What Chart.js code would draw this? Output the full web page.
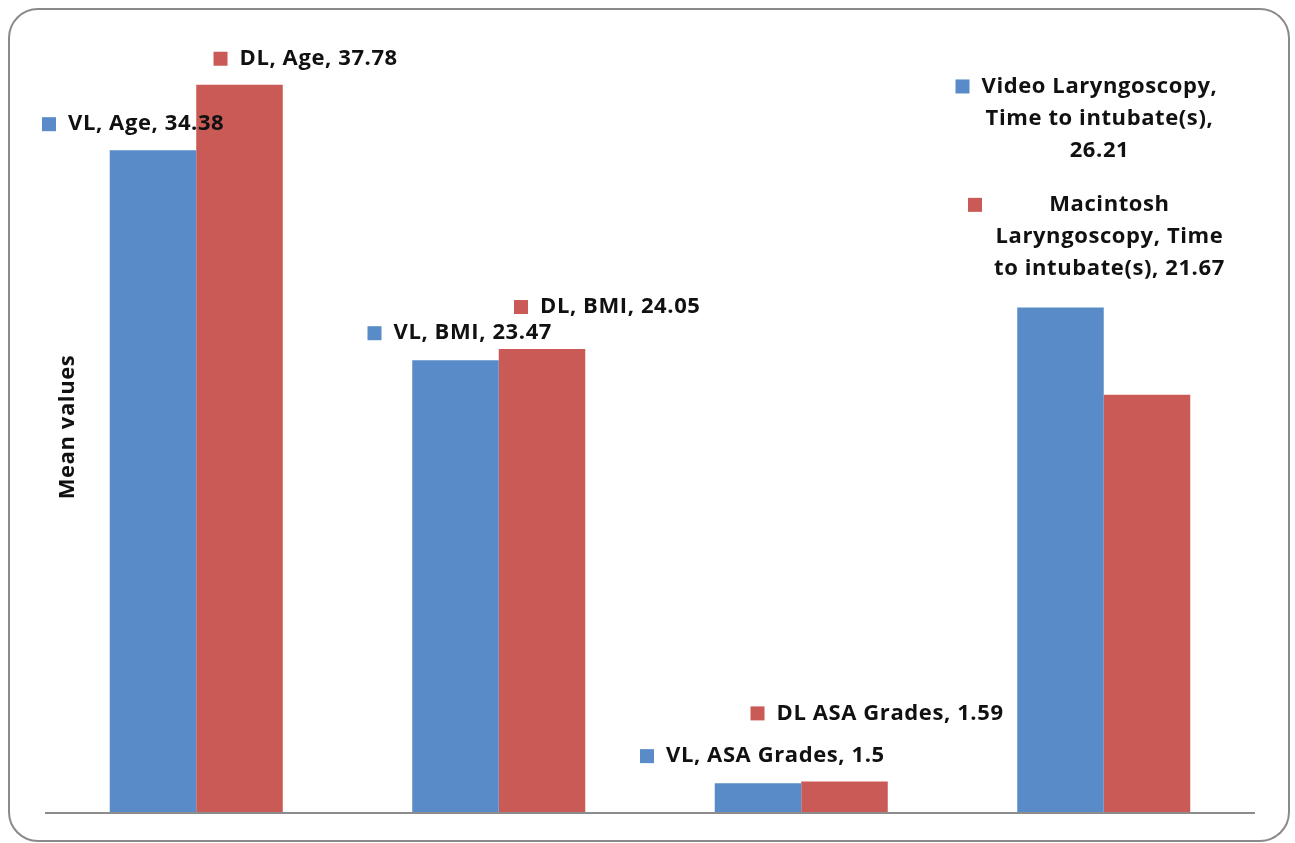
<!DOCTYPE html>
<html>
<head>
<meta charset="utf-8">
<script src="https://cdn.jsdelivr.net/npm/chart.js@4.4.1/dist/chart.umd.min.js"></script>
<style>
  html, body { margin: 0; padding: 0; background: #fff; }
  #wrap { position: absolute; left: 0; top: 0; width: 1295px; height: 843px; }
  #frame {
    position: absolute; left: 8px; top: 8px; width: 1278px; height: 830px;
    border: 2px solid #8a8a8a; border-radius: 30px; pointer-events: none;
  }
</style>
</head>
<body>
<div id="wrap">
  <canvas id="chart" width="1295" height="843"></canvas>
  <div id="frame"></div>
</div>
<script>
// ---- data ----
const categories = ['Age', 'BMI', 'ASA Grades', 'Time to intubate(s)'];
const vlValues = [34.38, 23.47, 1.5, 26.21];
const dlValues = [37.78, 24.05, 1.59, 21.67];

const vlLabels = [
  ['VL, Age, 34.38'],
  ['VL, BMI, 23.47'],
  ['VL, ASA Grades, 1.5'],
  ['Video Laryngoscopy,', 'Time to intubate(s),', '26.21']
];
const dlLabels = [
  ['DL, Age, 37.78'],
  ['DL, BMI, 24.05'],
  ['DL ASA Grades, 1.59'],
  ['Macintosh', 'Laryngoscopy, Time', 'to intubate(s), 21.67']
];

// label block offsets from the bar's top centre (manually placed in the original)
const vlOffsets = [[-111, -26], [-88, -27], [-118, -27], [-105, -221]];
const dlOffsets = [[-26, -26], [-28, -42], [-94, -68], [-179, -190]];

const BLUE = '#588BC8';
const RED = '#CA5A55';
const FONT = 'bold 22px "Open Sans", Lato, sans-serif';

function setFont(ctx) {
  ctx.font = FONT;
  ctx.letterSpacing = '0.6px';
}

/**
 * Draws baseline, y title and the Excel-style data labels
 */
const decorPlugin = {
  id: 'decor',
  afterDatasetsDraw: (chart) => {
    const { ctx, chartArea, scales } = chart;
    ctx.save();

    // baseline
    const y0 = scales.y.getPixelForValue(0);
    ctx.strokeStyle = '#8c8c8c';
    ctx.lineWidth = 2;
    ctx.beginPath();
    ctx.moveTo(chartArea.left, y0 + 1);
    ctx.lineTo(chartArea.right, y0 + 1);
    ctx.stroke();

    // y axis title
    ctx.fillStyle = '#111';
    setFont(ctx);
    ctx.textAlign = 'center';
    ctx.textBaseline = 'middle';
    ctx.save();
    ctx.translate(chartArea.left + 23, (chartArea.top + chartArea.bottom) / 2);
    ctx.rotate(-Math.PI / 2);
    ctx.fillText('Mean values', 0, 0);
    ctx.restore();

    // data labels
    const sets = [[vlLabels, vlOffsets, BLUE], [dlLabels, dlOffsets, RED]];
    sets.forEach(([labels, offsets, color], di) => {
      const meta = chart.getDatasetMeta(di);
      meta.data.forEach((bar, i) => {
        const left = bar.x + offsets[i][0];
        const top = bar.y + offsets[i][1];
        const lines = labels[i];
        ctx.fillStyle = color;
        ctx.fillRect(left, top - 7, 14, 14);
        ctx.fillStyle = '#111';
        setFont(ctx);
        const widths = lines.map(l => ctx.measureText(l).width);
        const maxW = Math.max(...widths);
        const cx = left + 26 + maxW / 2;
        ctx.textAlign = 'center';
        lines.forEach((l, k) => ctx.fillText(l, cx, top + k * 32));
      });
    });

    ctx.restore();
  }
};

new Chart(document.getElementById('chart'), {
  type: 'bar',
  plugins: [decorPlugin],
  data: {
    labels: categories,
    datasets: [
      { label: 'VL', data: vlValues, backgroundColor: BLUE, borderWidth: 0 },
      { label: 'DL', data: dlValues, backgroundColor: RED, borderWidth: 0 }
    ]
  },
  options: {
    responsive: false,
    animation: false,
    layout: { padding: { left: 45, right: 40, top: 42, bottom: 31 } },
    datasets: { bar: { categoryPercentage: 0.572, barPercentage: 1.0 } },
    plugins: { legend: { display: false }, tooltip: { enabled: false } },
    scales: {
      x: { display: false },
      y: { display: false, min: 0, max: 40 }
    }
  }
});
</script>
</body>
</html>
